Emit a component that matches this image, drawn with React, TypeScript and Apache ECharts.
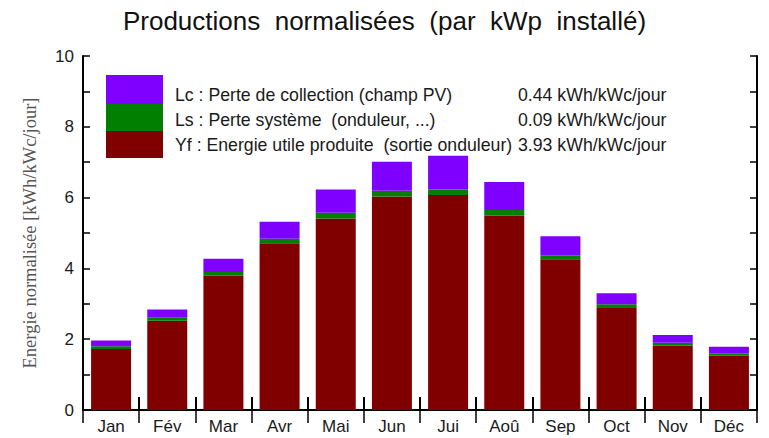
import React, { useEffect, useRef } from "react";
import * as echarts from "echarts";

const months = ["Jan", "Fév", "Mar", "Avr", "Mai", "Jun", "Jui", "Aoû", "Sep", "Oct", "Nov", "Déc"];
const yfValues = [1.72, 2.52, 3.79, 4.71, 5.41, 6.03, 6.07, 5.49, 4.26, 2.88, 1.82, 1.53];
const lsValues = [0.08, 0.1, 0.11, 0.13, 0.16, 0.16, 0.16, 0.16, 0.11, 0.11, 0.08, 0.07];
const lcValues = [0.16, 0.22, 0.37, 0.48, 0.66, 0.82, 0.95, 0.79, 0.54, 0.31, 0.22, 0.19];
const legendLabels = [
  "Lc : Perte de collection (champ PV)",
  "Ls : Perte système  (onduleur, ...)",
  "Yf : Energie utile produite  (sortie onduleur)",
];
const legendValues = ["0.44 kWh/kWc/jour", "0.09 kWh/kWc/jour", "3.93 kWh/kWc/jour"];
const colors = { yf: "#800000", ls: "#007f00", lc: "#8000ff" };
const titleText = "Productions  normalisées  (par  kWp  installé)";
const yAxisName = "Energie normalisée [kWh/kWc/jour]";

export default function App() {
  const ref = useRef<HTMLDivElement>(null);
  useEffect(() => {
    document.body.style.margin = "0";
    const chart = echarts.init(ref.current!, null, { renderer: "svg" });
    const font = "Liberation Sans, Arial, sans-serif";
    const axisLine = { show: true, lineStyle: { color: "#000", width: 2 } };
    const swatchColors = [colors.lc, colors.ls, colors.yf];
    const swatchY = [75, 104, 131];
    const swatchH = [29, 27, 27];
    const textY = [95, 120, 145];
    const graphic: any[] = [];
    swatchColors.forEach((c, i) => {
      graphic.push({
        type: "rect",
        left: 106,
        top: swatchY[i],
        shape: { width: 57, height: swatchH[i] },
        style: { fill: c },
        z: 10,
      });
      graphic.push({
        type: "text",
        x: 175,
        y: textY[i],
        style: { text: legendLabels[i], font: `17.7px ${font}`, fill: "#1a1a1a", textVerticalAlign: "middle" },
        z: 10,
      });
      graphic.push({
        type: "text",
        x: 518,
        y: textY[i],
        style: { text: legendValues[i], font: `17.7px ${font}`, fill: "#1a1a1a", textVerticalAlign: "middle" },
        z: 10,
      });
    });
    chart.setOption({
      animation: false,
      backgroundColor: "#fff",
      title: {
        text: titleText,
        left: "center",
        top: 3,
        textStyle: { fontFamily: font, fontSize: 26, fontWeight: "normal", color: "#111" },
      },
      grid: { left: 83, right: 12, top: 56, bottom: 28, containLabel: false },
      xAxis: [
        {
          type: "category",
          data: months,
          position: "bottom",
          axisLine,
          axisTick: { show: true, inside: true, length: 13, lineStyle: { color: "#000", width: 2 } },
          axisLabel: { fontFamily: font, fontSize: 17, color: "#1a1a1a", margin: 8 },
          splitLine: { show: false },
        },
        {
          type: "category",
          data: months,
          position: "top",
          axisLine,
          axisTick: { show: true, inside: true, length: 13, lineStyle: { color: "#000", width: 1.5 } },
          axisLabel: { show: false },
          splitLine: { show: false },
        },
      ],
      yAxis: [
        {
          type: "value",
          min: 0,
          max: 10,
          interval: 2,
          position: "left",
          name: yAxisName,
          nameLocation: "middle",
          nameGap: 44,
          nameRotate: 90,
          nameTextStyle: { fontFamily: "Liberation Serif, Times New Roman, serif", fontSize: 18.5, color: "#555" },
          axisLine,
          axisTick: { show: true, inside: true, length: 7, lineStyle: { color: "#000", width: 1.5 } },
          minorTick: { show: true, splitNumber: 2, length: 7, lineStyle: { color: "#000", width: 1.5 } },
          axisLabel: { fontFamily: font, fontSize: 17, color: "#1a1a1a", margin: 9 },
          splitLine: { show: false },
        },
        {
          type: "value",
          min: 0,
          max: 10,
          interval: 1,
          position: "right",
          axisLine,
          axisTick: { show: true, inside: true, length: 7, lineStyle: { color: "#000", width: 1.5 } },
          axisLabel: { show: false },
          splitLine: { show: false },
        },
      ],
      series: [
        { name: "Yf", type: "bar", stack: "t", data: yfValues, barWidth: 40, itemStyle: { color: colors.yf } },
        { name: "Ls", type: "bar", stack: "t", data: lsValues, barWidth: 40, itemStyle: { color: colors.ls } },
        { name: "Lc", type: "bar", stack: "t", data: lcValues, barWidth: 40, itemStyle: { color: colors.lc } },
      ],
      graphic,
    });
    return () => chart.dispose();
  }, []);
  return <div ref={ref} style={{ width: 769, height: 438 }} />;
}
